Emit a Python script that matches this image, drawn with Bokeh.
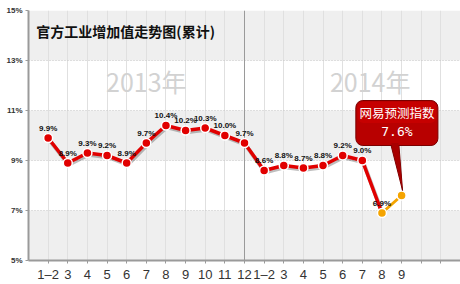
from bokeh.plotting import figure
from bokeh.models import ColumnDataSource, FixedTicker, Span, BoxAnnotation, Range1d
from bokeh.core.properties import value
from bokeh.transform import dodge
from bokeh.embed import file_html
from bokeh.resources import INLINE

# ---- data ----
month_labels = ["1–2", "3", "4", "5", "6", "7", "8", "9", "10", "11", "12",
                "1–2", "3", "4", "5", "6", "7", "8", "9", "", ""]
values_2013 = [9.9, 8.9, 9.3, 9.2, 8.9, 9.7, 10.4, 10.2, 10.3, 10.0, 9.7]
values_2014 = [8.6, 8.8, 8.7, 8.8, 9.2, 9.0, 6.9]
forecast_value = 7.6
y_ticks = [5, 7, 9, 11, 13, 15]
title_text = "官方工业增加值走势图(累计)"
year_labels = ["2013年", "2014年"]
callout_title = "网易预测指数"

actual = values_2013 + values_2014
xs = list(range(len(actual)))
fx = len(actual)          # index of forecast month
fy = forecast_value
last_x, last_y = xs[-1], actual[-1]

RED = "#e10000"
ORANGE = "#f5a400"

p = figure(width=460, height=284, x_range=Range1d(-1, 21), y_range=Range1d(5, 15),
           output_backend="svg", toolbar_location=None,
           min_border_left=28, min_border_right=0, min_border_top=10, min_border_bottom=24)
p.outline_line_color = None
p.background_fill_color = "white"
p.border_fill_color = "white"

# alternating bands
for i in range(0, len(y_ticks) - 1, 2):
    p.add_layout(BoxAnnotation(bottom=y_ticks[i], top=y_ticks[i + 1], fill_color="#efefef",
                               fill_alpha=1, line_alpha=0, level="image"))

# grids
p.xgrid.ticker = FixedTicker(ticks=list(range(len(month_labels))))
p.xgrid.grid_line_color = "#e0e0e0"
p.xgrid.grid_line_width = 1
p.ygrid.ticker = FixedTicker(ticks=y_ticks)
p.ygrid.grid_line_color = "#c4c4c4"
p.ygrid.grid_line_dash = "1 2"

# year divider
p.add_layout(Span(location=len(values_2013) - 1, dimension="height", line_color="#9a9a9a",
                  line_width=1, level="underlay"))

# axes
p.xaxis.ticker = FixedTicker(ticks=list(range(len(month_labels))))
p.xaxis.major_label_overrides = {i: lab for i, lab in enumerate(month_labels)}
p.xaxis.major_label_text_font = "Liberation Sans"
p.xaxis.major_label_text_font_size = "13px"
p.xaxis.major_label_text_color = "#333333"
p.xaxis.major_label_standoff = 3
p.xaxis.axis_line_color = "#9a9a9a"
p.xaxis.axis_line_width = 2
p.xaxis.major_tick_line_color = "#9a9a9a"
p.xaxis.major_tick_in = 0
p.xaxis.major_tick_out = 3
p.xaxis.minor_tick_line_color = None

p.yaxis.ticker = FixedTicker(ticks=y_ticks)
p.yaxis.major_label_overrides = {t: f"{t}%" for t in y_ticks}
p.yaxis.major_label_text_font = "Liberation Sans"
p.yaxis.major_label_text_font_size = "8px"
p.yaxis.major_label_text_font_style = "bold"
p.yaxis.major_label_text_color = "#333333"
p.yaxis.major_label_standoff = 3
p.yaxis.axis_line_color = "#9a9a9a"
p.yaxis.axis_line_width = 2
p.yaxis.major_tick_line_color = "#9a9a9a"
p.yaxis.major_tick_in = 0
p.yaxis.major_tick_out = 3
p.yaxis.minor_tick_line_color = None

# title and year watermarks
p.text(x=[-0.6], y=[14.2], text=[title_text], text_font=value("Noto Sans CJK SC"),
       text_font_size="14px", text_font_style="bold", text_color="#111111",
       text_baseline="middle", text_align="left")
p.text(x=[5.0, 16.4], y=[12.2, 12.2], text=year_labels, text_font=value("Noto Sans CJK SC"),
       text_font_size="25px", text_color="#d2d2d2", text_baseline="middle", text_align="center")

# data line
src = ColumnDataSource(dict(x=xs, y=actual, lab=[f"{v}%" for v in actual],
                            col=[RED] * (len(actual) - 1) + [ORANGE]))
p.line(x=dodge("x", 0.05, range=p.x_range), y=dodge("y", -0.07, range=p.y_range), source=src,
       line_color="black", line_alpha=0.25, line_width=4, line_join="round")
p.line("x", "y", source=src, line_color=RED, line_width=3.5, line_join="round", line_cap="round")
p.line([last_x, fx], [last_y, fy], line_color=ORANGE, line_width=3, line_cap="round")
p.scatter("x", "y", source=src, size=9, fill_color="col", line_color="white", line_width=1.5)
p.scatter([fx], [fy], size=9, fill_color=ORANGE, line_color="white", line_width=1.5)
p.text("x", "y", text="lab", source=src, text_font=value("Liberation Sans"),
       text_font_size="8px", text_font_style="bold", text_color="#111111",
       text_align="center", text_baseline="middle", y_offset=-10)

# callout box
bl, br, bb, bt = fx - 2.33, fx + 1.85, fy + 2.0, fy + 3.8
p.patch([fx - 0.55, fx - 0.14, fx + 0.05], [bb + 0.05, bb + 0.05, fy + 0.2],
        fill_color="#a80000", line_color="#7a0000", line_width=1)
p.quad(left=[bl], right=[br], bottom=[bb], top=[bt], border_radius=7,
       fill_color="#b80000", line_color="#7a0000", line_width=1)
p.quad(left=[bl + 0.08], right=[br - 0.08], bottom=[bb + 0.9], top=[bt - 0.05], border_radius=6,
       fill_color="#d40000", fill_alpha=0.5, line_color=None)
p.patch([fx - 0.53, fx - 0.16, fx + 0.03], [bb + 0.1, bb + 0.1, fy + 0.3],
        fill_color="#a80000", line_color=None)
cx = (bl + br) / 2
p.text(x=[cx], y=[10.92], text=[callout_title], text_font=value("Noto Sans CJK SC"),
       text_font_size="12.5px", text_color="white", text_align="center", text_baseline="middle")
p.text(x=[cx], y=[10.16], text=[f"{fy}%"], text_font=value("DejaVu Sans Mono"),
       text_font_size="13px", text_color="white", text_align="center", text_baseline="middle")

open("out.html", "w").write(file_html(p, INLINE))
